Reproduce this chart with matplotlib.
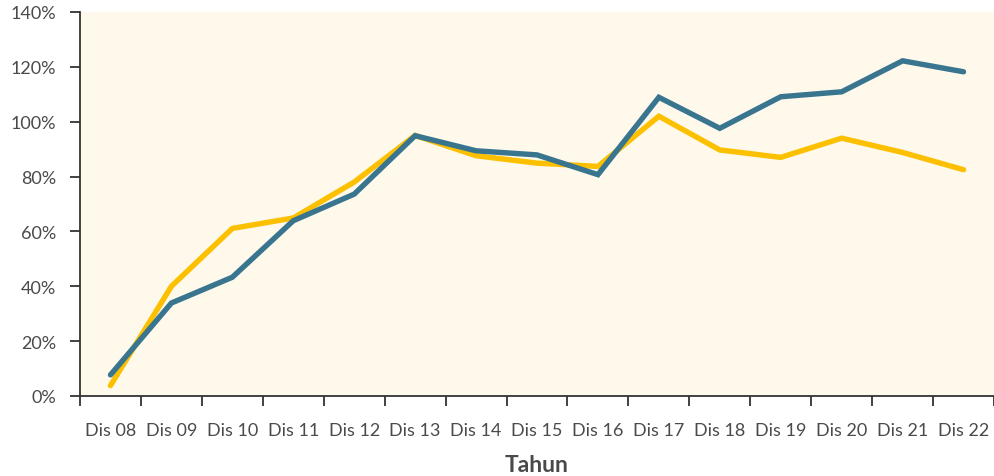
import matplotlib
matplotlib.use("Agg")
import matplotlib.pyplot as plt
import numpy as np
from matplotlib.ticker import FixedLocator, FuncFormatter

categories = ["Dis 08", "Dis 09", "Dis 10", "Dis 11", "Dis 12", "Dis 13", "Dis 14", "Dis 15",
              "Dis 16", "Dis 17", "Dis 18", "Dis 19", "Dis 20", "Dis 21", "Dis 22"]
series_blue = [7.7, 33.9, 43.3, 63.9, 73.6, 94.9, 89.4, 87.9, 80.7, 108.9, 97.6, 109.1, 110.9, 122.2, 118.2]
series_yellow = [3.8, 40.0, 61.1, 64.9, 78.0, 95.0, 87.6, 84.9, 83.7, 102.0, 89.7, 87.0, 94.0, 88.8, 82.5]
y_ticks = [0, 20, 40, 60, 80, 100, 120, 140]

plt.rcParams['font.family'] = ['Lato', 'DejaVu Sans']

fig = plt.figure(figsize=(9.94, 4.77), dpi=100)
ax = fig.add_axes([80/994, (477-397)/477, 1 - 80/994, (397-13)/477])
ax.set_facecolor("#fef9eb")

x = np.arange(len(categories))
ax.plot(x, series_yellow, color="#fcc000", lw=3.9, solid_capstyle="round", solid_joinstyle="miter", zorder=3)
ax.plot(x, series_blue, color="#3a7590", lw=3.9, solid_capstyle="round", solid_joinstyle="miter", zorder=4)

ax.set_xlim(-0.5, len(categories) - 0.5)
ax.set_ylim(0, 140)

ax.xaxis.set_major_locator(FixedLocator(np.arange(len(categories) + 1) - 0.5))
ax.xaxis.set_major_formatter(FuncFormatter(lambda v, p: ""))
ax.xaxis.set_minor_locator(FixedLocator(x))
ax.set_xticklabels(categories, minor=True)
ax.tick_params(axis="x", which="major", length=7, width=1.3, color="#333333")
ax.tick_params(axis="x", which="minor", length=0, pad=19, labelsize=13, labelcolor="#4a4a4a")

ax.set_yticks(y_ticks)
ax.set_yticklabels([f"{v}%" for v in y_ticks])
ax.tick_params(axis="y", length=7, width=1.3, color="#333333", labelsize=13, labelcolor="#4a4a4a", pad=10)

for s in ["top", "right"]:
    ax.spines[s].set_visible(False)
for s in ["left", "bottom"]:
    ax.spines[s].set_color("#333333")
    ax.spines[s].set_linewidth(1.3)

ax.set_xlabel("Tahun", fontsize=16.5, fontweight="bold", color="#4a4a4a", labelpad=11)

fig.savefig("out.png", dpi=100)
